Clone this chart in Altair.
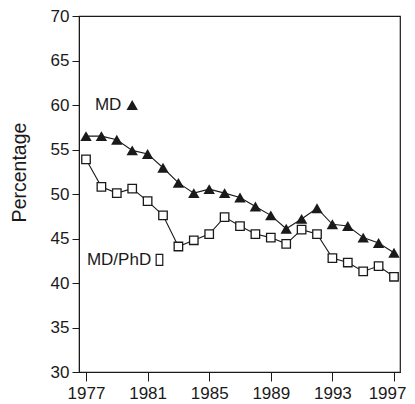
import altair as alt
import pandas as pd

years = list(range(1977, 1998))
md = [56.5, 56.5, 56.1, 54.9, 54.5, 52.95, 51.25, 50.1, 50.55, 50.1, 49.6,
      48.6, 47.6, 46.1, 47.2, 48.4, 46.6, 46.4, 45.1, 44.5, 43.4]
mdphd = [53.9, 50.8, 50.1, 50.6, 49.2, 47.6, 44.1, 44.8, 45.5, 47.4, 46.4,
         45.5, 45.1, 44.4, 46.0, 45.5, 42.8, 42.3, 41.3, 41.9, 40.7]

x_ticks = list(range(1977, 1998))
y_ticks = [30, 35, 40, 45, 50, 55, 60, 65, 70]

label_text = ["MD", "MD/PhD"]
label_x = [1977.58, 1977.06]
label_y = [60.0, 42.6]
glyph_x = [1980.0, 1981.77]
glyph_y = [60.0, 42.6]

FONT = "Liberation Sans"
INK = "#1a1a1a"

df = pd.DataFrame({
    "year": years * 2,
    "value": md + mdphd,
    "series": ["MD"] * len(years) + ["MD/PhD"] * len(years),
})
lab = pd.DataFrame({"text": label_text, "x": label_x, "y": label_y,
                    "gx": glyph_x, "gy": glyph_y})

xscale = alt.Scale(domain=[1976.545, 1997.39], nice=False, zero=False)
yscale = alt.Scale(domain=[30, 70], nice=False, zero=False)

xaxis = alt.Axis(values=x_ticks, format="d", title=None, tickSize=9,
                 labelPadding=4, labelFontSize=17, labelFont=FONT,
                 labelColor=INK, tickColor=INK, domainColor=INK,
                 labelFlush=False, labelOverlap=False, grid=False,
                 labelAlign=alt.ExprRef(expr="datum.value == 1997 ? 'right' : 'center'"),
                 labelOffset=alt.ExprRef(expr="datum.value == 1997 ? 12 : 0"),
                 labelExpr="(datum.value - 1977) % 4 == 0 ? datum.label : ''")
yaxis = alt.Axis(values=y_ticks, title="Percentage", tickSize=7,
                 labelPadding=3, labelFontSize=17, labelFont=FONT,
                 labelColor=INK, tickColor=INK, domainColor=INK, grid=False,
                 labelFlush=False, labelOverlap=False,
                 titleFont=FONT, titleFontSize=19.5, titleFontWeight="normal",
                 titleColor=INK, titleX=-60, titleY=156, titleAlign="center",
                 titleBaseline="middle", titleAngle=-90)

base = alt.Chart(df)

lines = base.mark_line(color=INK, strokeWidth=1.1).encode(
    x=alt.X("year:Q", scale=xscale, axis=xaxis),
    y=alt.Y("value:Q", scale=yscale, axis=yaxis),
    detail="series:N",
)

tri = base.transform_filter(alt.datum.series == "MD").mark_point(
    shape="triangle-up", filled=True, color=INK, size=130, opacity=1
).encode(x=alt.X("year:Q", scale=xscale), y=alt.Y("value:Q", scale=yscale))

sq = base.transform_filter(alt.datum.series == "MD/PhD").mark_point(
    shape="square", filled=True, fill="white", stroke=INK, strokeWidth=1.3,
    size=72, opacity=1
).encode(x=alt.X("year:Q", scale=xscale), y=alt.Y("value:Q", scale=yscale))

labels = alt.Chart(lab).mark_text(
    align="left", baseline="middle", font=FONT, fontSize=17, color=INK
).encode(x=alt.X("x:Q", scale=xscale), y=alt.Y("y:Q", scale=yscale),
         text="text:N")

g1 = alt.Chart(lab).transform_filter(alt.datum.text == "MD").mark_point(
    shape="triangle-up", filled=True, color=INK, size=130, opacity=1
).encode(x=alt.X("gx:Q", scale=xscale), y=alt.Y("gy:Q", scale=yscale))

g2 = alt.Chart(lab).transform_filter(alt.datum.text == "MD/PhD").mark_point(
    shape="M-0.6,-1H0.6V1H-0.6Z", filled=False, stroke=INK, strokeWidth=1.2,
    size=121, opacity=1
).encode(x=alt.X("gx:Q", scale=xscale), y=alt.Y("gy:Q", scale=yscale))

chart = alt.layer(lines, sq, tri, labels, g1, g2).properties(
    width=321, height=356,
    autosize=alt.AutoSizeParams(type="none"),
    padding={"left": 71, "top": 8, "right": 7, "bottom": 30},
    background="white",
).configure_view(stroke=INK, strokeWidth=1.2)

chart.save("out.html", embed_options={"renderer": "svg", "actions": False})
